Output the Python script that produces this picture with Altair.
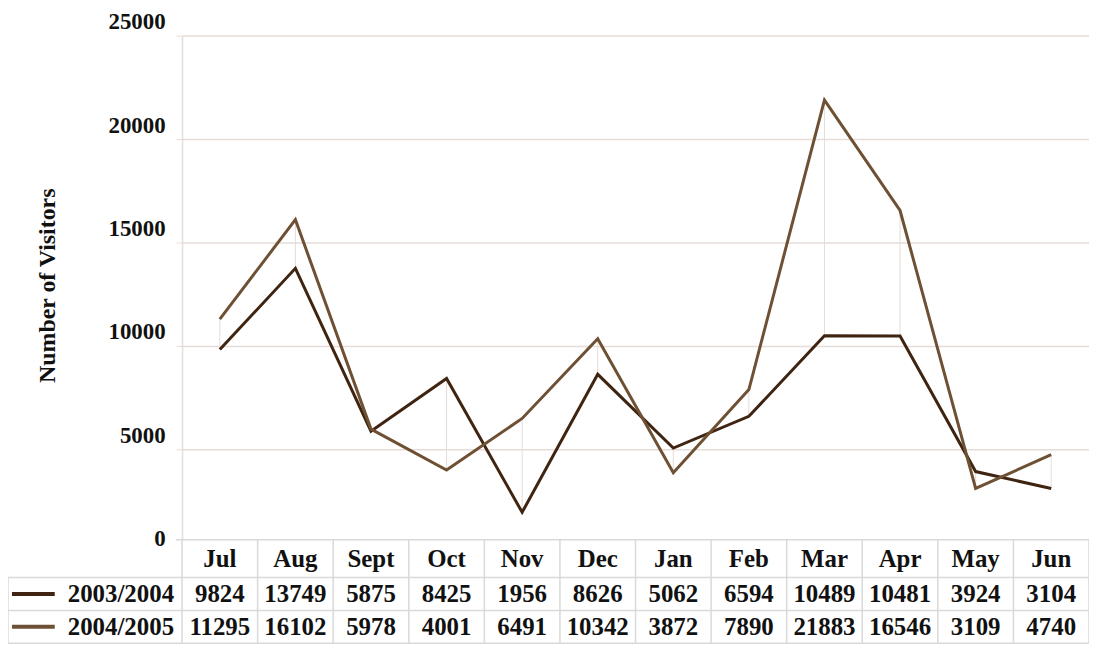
import altair as alt
import pandas as pd

months = ["Jul", "Aug", "Sept", "Oct", "Nov", "Dec", "Jan", "Feb", "Mar", "Apr", "May", "Jun"]
visitors_0304 = [9824, 13749, 5875, 8425, 1956, 8626, 5062, 6594, 10489, 10481, 3924, 3104]
visitors_0405 = [11295, 16102, 5978, 4001, 6491, 10342, 3872, 7890, 21883, 16546, 3109, 4740]
series_names = ["2003/2004", "2004/2005"]
series_colors = ["#3f2511", "#6e5034"]
y_ticks = [0, 5000, 10000, 15000, 20000, 25000]

FONT = "Liberation Serif"
TXT = "#111111"
GRID = "#e6dcd8"
BORDER = "#d9d9d9"
FS_AX = 23
FS_TB = 25

W, H = 912, 520
# table geometry (plot coordinates)
T_TOP, R1, R2, T_BOT = 507, 545, 578, 611
HDR_Y, ROW_Y = 526, [561.5, 594.5]
LEFT = -175

long_df = pd.DataFrame({
    "month": months * 2,
    "series": [series_names[0]] * 12 + [series_names[1]] * 12,
    "value": visitors_0304 + visitors_0405,
})
wide_df = pd.DataFrame({"month": months, "a": visitors_0304, "b": visitors_0405})
one = pd.DataFrame({"k": [0]})

xscale = alt.Scale(type="band", domain=months, paddingInner=0, paddingOuter=0)
yscale = alt.Scale(domain=[0, 25000], nice=False)


def xenc(band=0.5):
    return alt.X("month:N", sort=months, scale=xscale, axis=None, bandPosition=band)


yaxis = alt.Axis(
    values=y_ticks, format="d",
    title="Number of Visitors",
    titleFont=FONT, titleFontSize=24, titleFontWeight="bold", titleColor=TXT,
    titleAngle=270, titleX=-135, titleY=251, titleAlign="center", titleBaseline="middle",
    labelFont=FONT, labelFontSize=FS_AX, labelFontWeight="bold", labelColor=TXT,
    labelOffset=-14, labelPadding=11,
    tickSize=6, tickColor=GRID,
    tickOpacity={"condition": {"test": "datum.value === 0", "value": 0}, "value": 1},
    grid=True, gridColor=GRID, gridWidth=1.5,
    gridOpacity={"condition": {"test": "datum.value === 0", "value": 0}, "value": 1},
    domain=True, domainColor=GRID, domainWidth=1.5,
)

drops = alt.Chart(wide_df).mark_rule(color=GRID, strokeWidth=1).encode(
    x=xenc(), y=alt.Y("a:Q", scale=yscale, axis=yaxis), y2="b:Q"
)

lines = alt.Chart(long_df).mark_line(strokeWidth=3).encode(
    x=xenc(),
    y=alt.Y("value:Q", scale=yscale, axis=yaxis),
    color=alt.Color("series:N", scale=alt.Scale(domain=series_names, range=series_colors), legend=None),
)

layers = [drops, lines]


def hrule(y, x1, x2):
    return alt.Chart(one).mark_rule(color=BORDER, strokeWidth=1.5).encode(
        x=alt.value(x1), x2=alt.value(x2), y=alt.value(y)
    )


def vrule(x, y1, y2):
    return alt.Chart(one).mark_rule(color=BORDER, strokeWidth=1.5).encode(
        x=alt.value(x), y=alt.value(y1), y2=alt.value(y2)
    )


# white header row background
layers.append(
    alt.Chart(one).mark_rect(color="white").encode(
        x=alt.value(0), x2=alt.value(W), y=alt.value(T_TOP + 1), y2=alt.value(R1)
    )
)
layers.append(hrule(T_TOP, -6, W))
layers.append(hrule(R1, LEFT, W))
layers.append(hrule(R2, LEFT, W))
layers.append(hrule(T_BOT, LEFT, W))
layers.append(vrule(LEFT, R1, T_BOT))
layers.append(
    alt.Chart(wide_df).mark_rule(color=BORDER, strokeWidth=1.5).encode(
        x=xenc(0), y=alt.value(T_TOP), y2=alt.value(T_BOT)
    )
)
layers.append(vrule(W, T_TOP, T_BOT))

text_kw = dict(font=FONT, fontSize=FS_TB, fontWeight="bold", color=TXT, baseline="middle")

layers.append(
    alt.Chart(wide_df).mark_text(**text_kw).encode(x=xenc(), y=alt.value(HDR_Y), text="month:N")
)

for i, col in enumerate(["a", "b"]):
    layers.append(
        alt.Chart(wide_df).mark_text(**text_kw).encode(
            x=xenc(), y=alt.value(ROW_Y[i]), text=alt.Text(f"{col}:Q", format="d")
        )
    )
    lab = pd.DataFrame({"label": [series_names[i]]})
    layers.append(
        alt.Chart(lab).mark_text(align="right", **text_kw).encode(
            x=alt.value(-8), y=alt.value(ROW_Y[i]), text="label:N"
        )
    )
    layers.append(
        alt.Chart(lab).mark_rule(color=series_colors[i], strokeWidth=4).encode(
            x=alt.value(-171), x2=alt.value(-128), y=alt.value(ROW_Y[i])
        )
    )

chart = (
    alt.layer(*layers)
    .properties(
        width=W,
        height=H,
        padding={"left": 175, "top": 26, "right": 0, "bottom": T_BOT - H},
        autosize=alt.AutoSizeParams(type="none"),
        background="white",
    )
    .configure_view(stroke=None)
)

chart.save("out.html", embed_options={"renderer": "svg", "actions": False})
